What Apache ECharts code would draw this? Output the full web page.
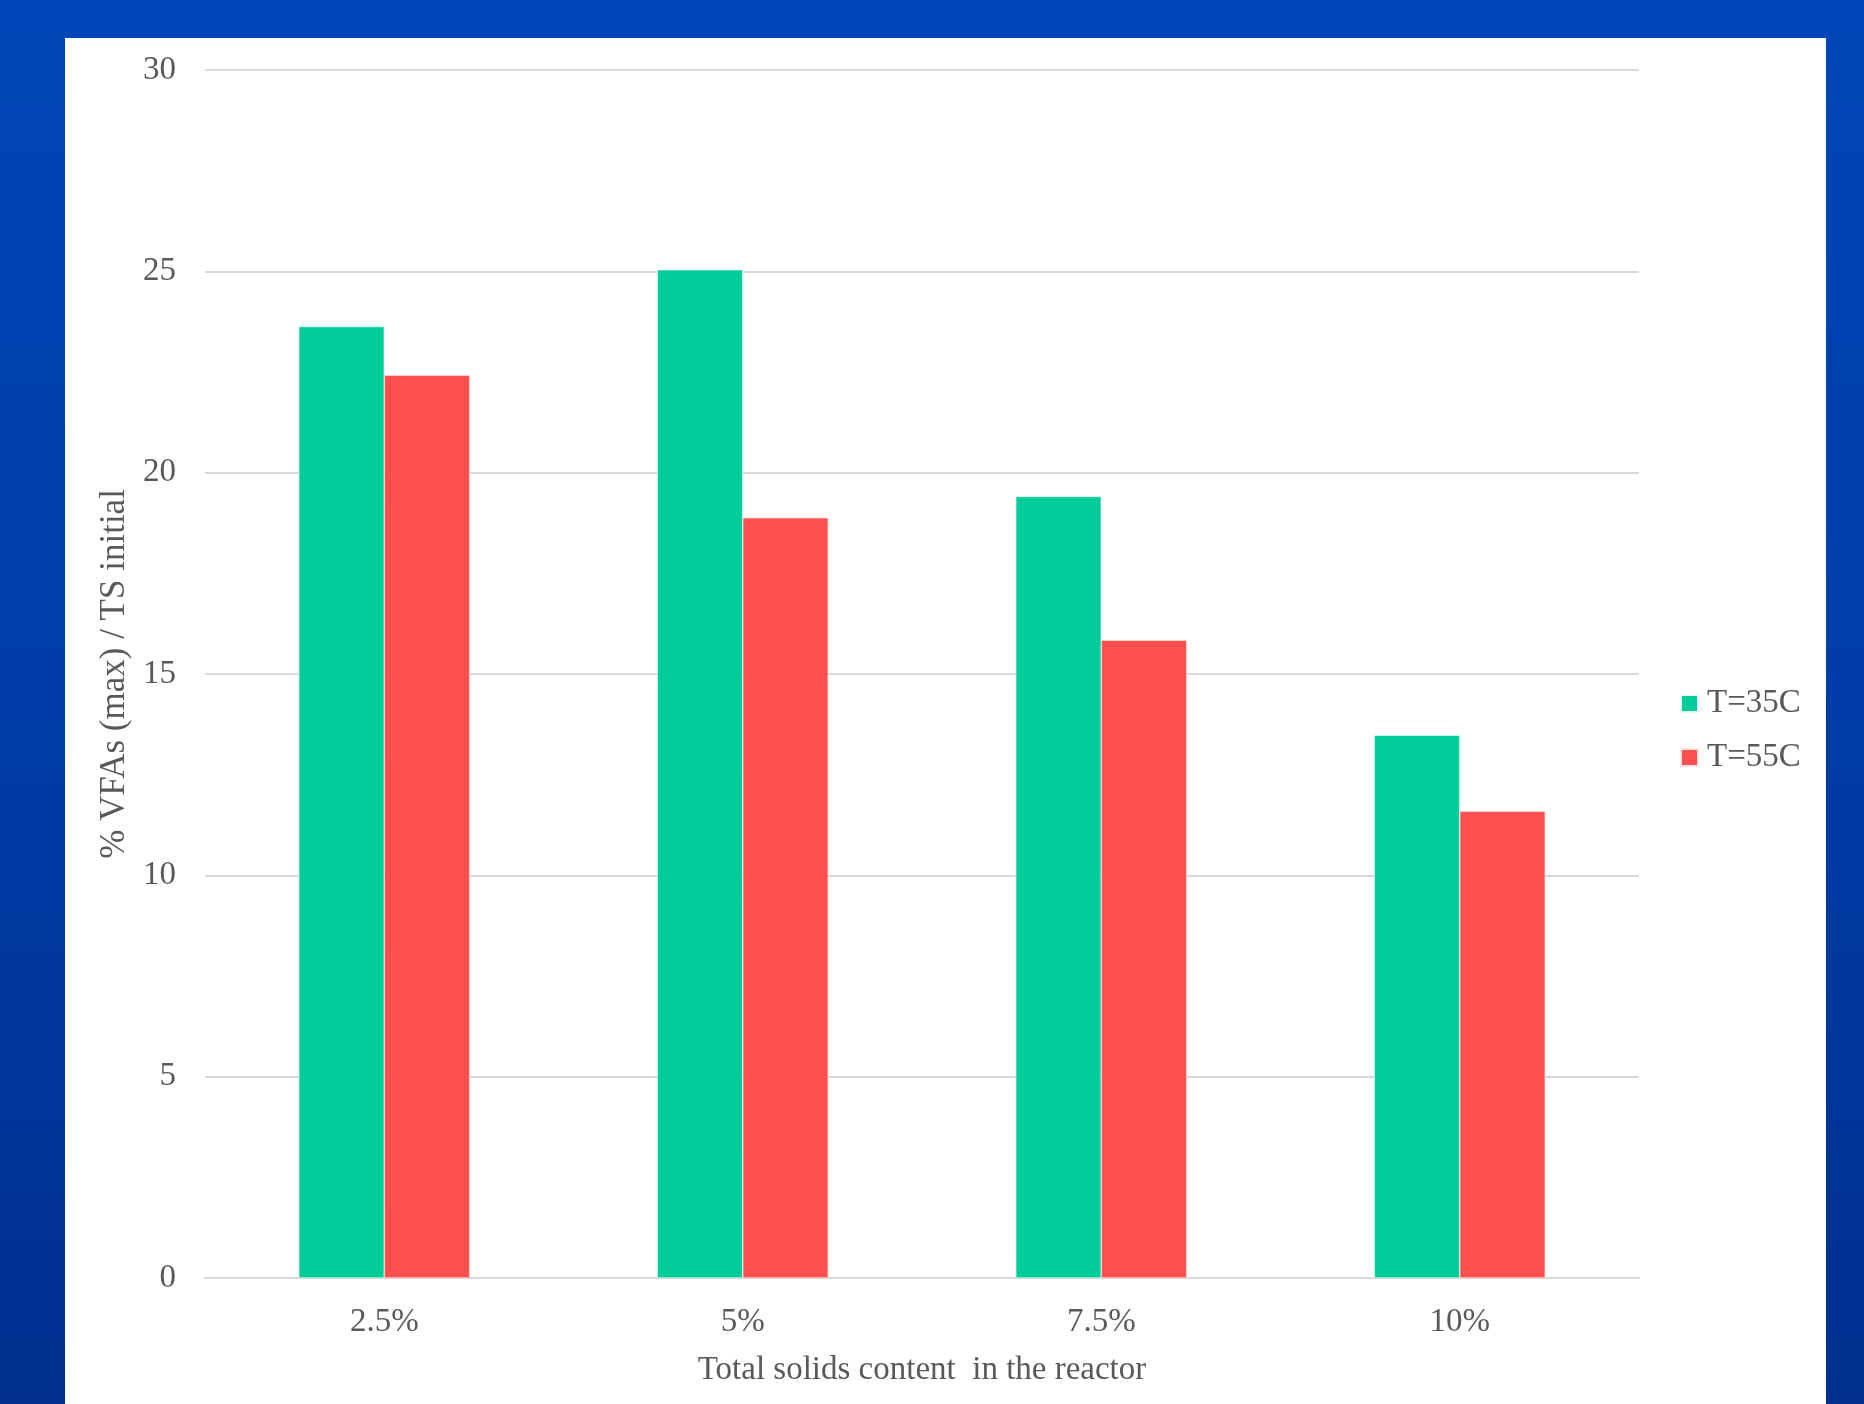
<!DOCTYPE html>
<html>
<head>
<meta charset="utf-8">
<script src="https://cdn.jsdelivr.net/npm/echarts@6/dist/echarts.min.js"></script>
<style>
  html, body { margin: 0; padding: 0; width: 1864px; height: 1404px; overflow: hidden; }
  body { background: linear-gradient(to bottom, #0046B8 0%, #003DA8 50%, #002F8E 100%); position: relative; }
  #panel { position: absolute; left: 65px; top: 38px; width: 1761px; height: 1366px; background: #ffffff; }
  #chart { position: absolute; left: 0; top: 0; width: 1864px; height: 1404px; }
</style>
</head>
<body>
<div id="panel"></div>
<div id="chart"></div>
<script>
const categories = ['2.5%', '5%', '7.5%', '10%'];
const seriesNames = ['T=35C', 'T=55C'];
const t35Values = [23.63, 25.04, 19.41, 13.48];
const t55Values = [22.42, 18.88, 15.84, 11.59];
const yTicks = [0, 5, 10, 15, 20, 25, 30];
const xAxisTitle = 'Total solids content  in the reactor';
const yAxisTitle = '% VFAs (max) / TS initial';

const FONT = '"Liberation Serif", "Times New Roman", serif';
const TXT = '#595959';

const chart = echarts.init(document.getElementById('chart'), null, { renderer: 'canvas' });
chart.setOption({
  backgroundColor: 'transparent',
  animation: false,
  grid: { left: 205, right: 225, top: 70, bottom: 126, containLabel: false },
  legend: {
    orient: 'vertical',
    left: 1675,
    top: 682,
    itemWidth: 17,
    itemHeight: 17,
    itemGap: 21,
    icon: 'rect',
    data: seriesNames,
    textStyle: { fontFamily: FONT, fontSize: 33, color: TXT, padding: [0, 0, 0, 4] }
  },
  xAxis: {
    type: 'category',
    data: categories,
    name: xAxisTitle,
    nameLocation: 'middle',
    nameGap: 76,
    nameTextStyle: { fontFamily: FONT, fontSize: 33, color: TXT },
    axisLine: { show: true, lineStyle: { color: '#D9D9D9', width: 2 } },
    axisTick: { show: false },
    axisLabel: { margin: 28, fontFamily: FONT, fontSize: 33, color: TXT }
  },
  yAxis: {
    type: 'value',
    min: yTicks[0],
    max: yTicks[yTicks.length - 1],
    interval: yTicks[1] - yTicks[0],
    name: yAxisTitle,
    nameLocation: 'middle',
    nameGap: 71,
    nameTextStyle: { fontFamily: FONT, fontSize: 35, color: TXT },
    axisLine: { show: false },
    axisTick: { show: false },
    axisLabel: { margin: 29, fontFamily: FONT, fontSize: 33, color: TXT, padding: [5, 0, 0, 0] },
    splitLine: { show: true, lineStyle: { color: '#D9D9D9', width: 2 } }
  },
  series: [
    {
      name: seriesNames[0],
      type: 'bar',
      data: t35Values,
      barGap: '0%',
      barCategoryGap: '52.3%',
      itemStyle: { color: '#00CC99', borderColor: '#E8FFF8', borderWidth: 0.6 }
    },
    {
      name: seriesNames[1],
      type: 'bar',
      data: t55Values,
      barGap: '0%',
      barCategoryGap: '52.3%',
      itemStyle: { color: '#FF5050', borderColor: '#FFE3E3', borderWidth: 0.6 }
    }
  ]
});
</script>
</body>
</html>
